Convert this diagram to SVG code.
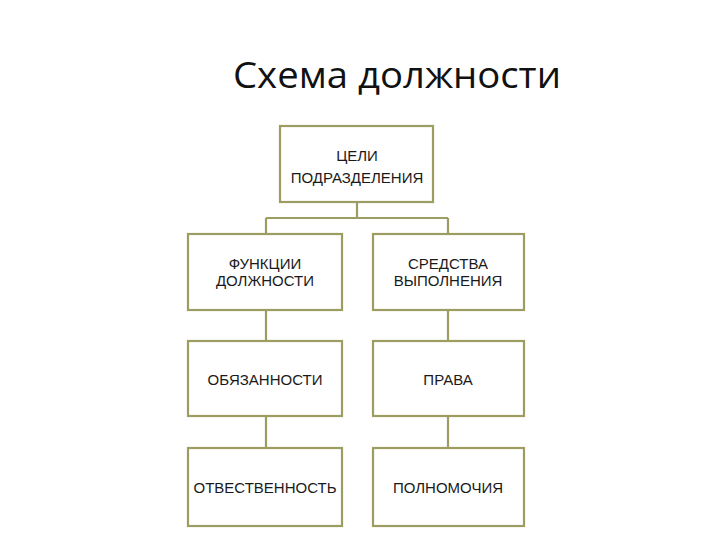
<svg xmlns="http://www.w3.org/2000/svg" width="720" height="540" viewBox="0 0 720 540">
<style>
.box{fill:#ffffff;stroke:#9d9d62;stroke-width:2.2}
.con{fill:none;stroke:#9d9d62;stroke-width:2.2}
.t{font-family:"Liberation Sans",Arial,sans-serif;font-size:15px;fill:#1a1a1a;text-anchor:middle}
.title{font-family:"Open Sans","Noto Sans",sans-serif;font-size:36px;fill:#111}
</style>
<rect width="720" height="540" fill="#ffffff"/>
<text class="title" x="233" y="88" textLength="328" lengthAdjust="spacingAndGlyphs">Схема должности</text>
<g id="connectors">
<path class="con" d="M357,202 V218 M266,218 H448 M266,218 V234 M448,218 V234"/>
<path class="con" d="M266,310 V341 M266,416 V448 M448,310 V341 M448,416 V448"/>
</g>
<g id="goals">
<rect class="box" x="280" y="126" width="153" height="76"/>
<text class="t" x="357" y="161">ЦЕЛИ</text>
<text class="t" x="357" y="183">ПОДРАЗДЕЛЕНИЯ</text>
</g>
<g id="functions">
<rect class="box" x="188" y="234" width="154" height="76"/>
<text class="t" x="265" y="269">ФУНКЦИИ</text>
<text class="t" x="265" y="286">ДОЛЖНОСТИ</text>
</g>
<g id="means">
<rect class="box" x="373" y="234" width="151" height="76"/>
<text class="t" x="448" y="269">СРЕДСТВА</text>
<text class="t" x="448" y="286">ВЫПОЛНЕНИЯ</text>
</g>
<g id="duties">
<rect class="box" x="188" y="341" width="154" height="75"/>
<text class="t" x="265" y="385">ОБЯЗАННОСТИ</text>
</g>
<g id="rights">
<rect class="box" x="373" y="341" width="151" height="75"/>
<text class="t" x="448" y="385">ПРАВА</text>
</g>
<g id="responsibility">
<rect class="box" x="188" y="448" width="154" height="78"/>
<text class="t" x="265" y="493">ОТВЕСТВЕННОСТЬ</text>
</g>
<g id="authority">
<rect class="box" x="373" y="448" width="151" height="78"/>
<text class="t" x="448" y="493">ПОЛНОМОЧИЯ</text>
</g>
</svg>
